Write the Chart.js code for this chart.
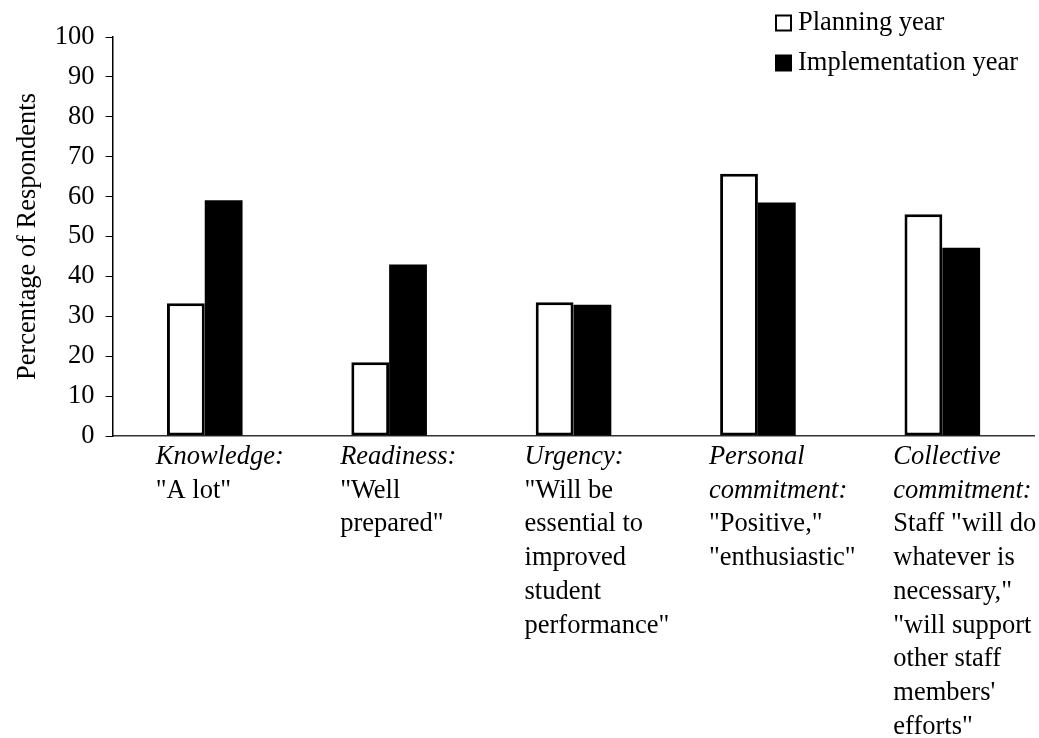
<!DOCTYPE html>
<html>
<head>
<meta charset="utf-8">
<script src="https://cdn.jsdelivr.net/npm/chart.js@4/dist/chart.umd.min.js"></script>
<style>
  html, body { margin: 0; padding: 0; background: #fff; }
  #wrap { width: 1039px; height: 738px; position: relative; }
</style>
</head>
<body>
<div id="wrap"><canvas id="chart" width="1039" height="738"></canvas></div>
<script>
// Survey measures (category keys)
const categories = ["Knowledge", "Readiness", "Urgency", "Personal commitment", "Collective commitment"];

// Italic heading lines under each group
const labelHeads = [
  ["Knowledge:"],
  ["Readiness:"],
  ["Urgency:"],
  ["Personal", "commitment:"],
  ["Collective", "commitment:"]
];

// Plain description lines under each group
const labelBodies = [
  ['"A lot"'],
  ['"Well', 'prepared"'],
  ['"Will be', 'essential to', 'improved', 'student', 'performance"'],
  ['"Positive,"', '"enthusiastic"'],
  ['Staff "will do', 'whatever is', 'necessary,"', '"will support', 'other staff', "members'", 'efforts"']
];

// Percentage of respondents
const planningYear = [33.3, 18.5, 33.5, 65.7, 55.6];
const implementationYear = [59.1, 43.0, 32.9, 58.5, 47.2];

// Y-axis tick range
const yMin = 0, yMax = 100, yStep = 10;

const FONT = '"Liberation Serif", "Times New Roman", Times, serif';
const FS = 26.5;

// Multi-line category labels with italic headings
const categoryLabels = {
  id: 'categoryLabels',
  afterDraw(chart) {
    const ctx = chart.ctx;
    const xs = chart.scales.x;
    const top = chart.chartArea.bottom + 21;
    const lh = 33.75;
    ctx.save();
    ctx.fillStyle = '#000';
    ctx.textAlign = 'left';
    ctx.textBaseline = 'middle';
    categories.forEach((c, i) => {
      const x = xs.getPixelForValue(i) - 49;
      let y = top;
      ctx.font = 'italic ' + FS + 'px ' + FONT;
      labelHeads[i].forEach(t => { ctx.fillText(t, x, y); y += lh; });
      ctx.font = FS + 'px ' + FONT;
      labelBodies[i].forEach(t => { ctx.fillText(t, x, y); y += lh; });
    });
    ctx.restore();
  }
};

// Stacked legend in the upper right
const sideLegend = {
  id: 'sideLegend',
  afterDraw(chart) {
    const ctx = chart.ctx;
    ctx.save();
    ctx.font = FS + 'px ' + FONT;
    ctx.textBaseline = 'middle';
    ctx.textAlign = 'left';
    chart.data.datasets.forEach((ds, i) => {
      const y = 23 + i * 40;
      const bx = 776, size = 15;
      ctx.fillStyle = ds.backgroundColor;
      ctx.fillRect(bx, y - size / 2, size, size);
      ctx.strokeStyle = '#000';
      ctx.lineWidth = 2;
      ctx.strokeRect(bx, y - size / 2, size, size);
      ctx.fillStyle = '#000';
      ctx.fillText(ds.label, 798, y);
    });
    ctx.restore();
  }
};

new Chart(document.getElementById('chart'), {
  type: 'bar',
  data: {
    labels: categories,
    datasets: [
      {
        label: 'Planning year',
        data: planningYear,
        backgroundColor: '#ffffff',
        borderColor: '#000000',
        borderWidth: 3,
        borderSkipped: false
      },
      {
        label: 'Implementation year',
        data: implementationYear,
        backgroundColor: '#000000',
        borderColor: '#000000',
        borderWidth: 0
      }
    ]
  },
  options: {
    responsive: false,
    animation: false,
    layout: { padding: { top: 37, left: 12, right: 4.5, bottom: 302 } },
    datasets: {
      bar: { categoryPercentage: 0.41, barPercentage: 1.0 }
    },
    plugins: {
      legend: { display: false },
      tooltip: { enabled: false }
    },
    scales: {
      x: {
        grid: { display: false, drawTicks: false },
        border: { display: true, color: '#333', width: 1.5 },
        ticks: { display: false }
      },
      y: {
        min: yMin,
        max: yMax,
        ticks: {
          stepSize: yStep,
          color: '#000',
          padding: 11,
          font: { family: FONT, size: FS }
        },
        grid: { drawOnChartArea: false, drawTicks: true, tickLength: 7, color: '#000' },
        border: { display: true, color: '#000', width: 1.5 },
        title: {
          display: true,
          text: 'Percentage of Respondents',
          color: '#000',
          font: { family: FONT, size: FS },
          padding: { top: 0, bottom: 0 }
        }
      }
    }
  },
  plugins: [categoryLabels, sideLegend]
});
</script>
</body>
</html>
